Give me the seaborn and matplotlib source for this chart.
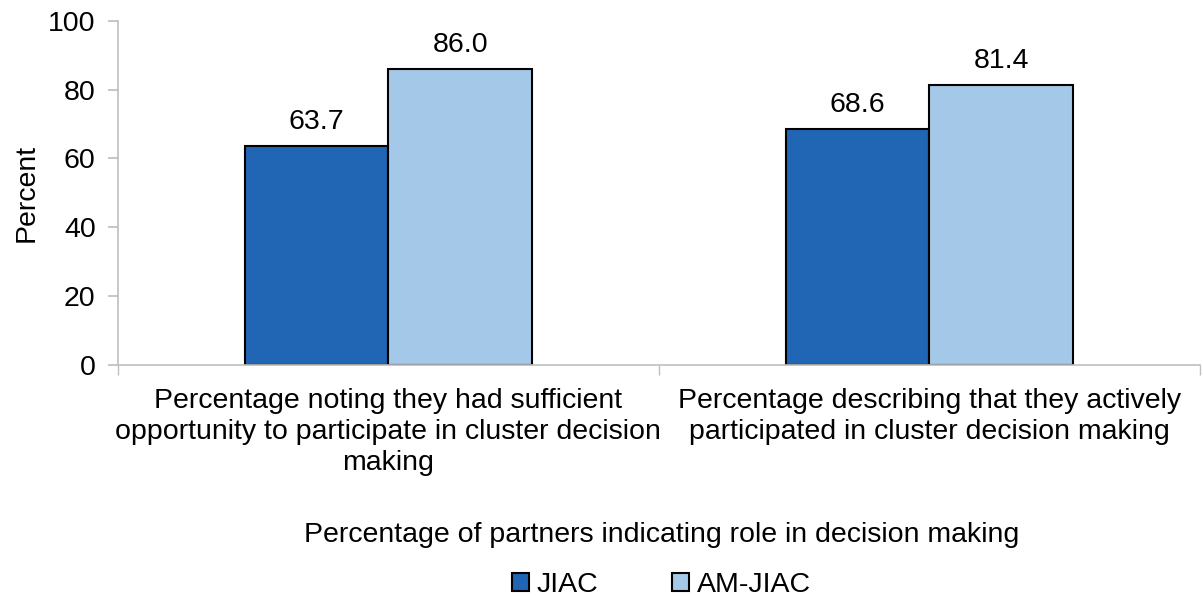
import matplotlib
matplotlib.use("Agg")
import matplotlib.pyplot as plt
import seaborn as sns
import pandas as pd
from matplotlib.ticker import FixedLocator

categories = ["Percentage noting they had sufficient\nopportunity to participate in cluster decision\nmaking",
              "Percentage describing that they actively\nparticipated in cluster decision making"]
groups = ["JIAC", "AM-JIAC"]
jiac = [63.7, 68.6]
am_jiac = [86.0, 81.4]
colors = ["#2166B4", "#A3C8E8"]

df = pd.DataFrame({
    "category": categories * 2,
    "group": [groups[0]] * 2 + [groups[1]] * 2,
    "value": jiac + am_jiac,
})

sns.set_theme(style="white")
plt.rcParams["font.family"] = ["Liberation Sans", "DejaVu Sans"]
plt.rcParams["text.color"] = "black"
plt.rcParams["axes.labelcolor"] = "black"
plt.rcParams["xtick.color"] = "black"
plt.rcParams["ytick.color"] = "black"

fs = 20.5
fig = plt.figure(figsize=(12.03, 5.98), dpi=100)
ax = fig.add_axes([0.098, 0.39, 0.8995, 0.575])

sns.barplot(data=df, x="category", y="value", hue="group", palette=colors, saturation=1,
            width=0.53, edgecolor="black", linewidth=1.5, ax=ax, legend=True)

for cont in ax.containers:
    ax.bar_label(cont, fmt="%.1f", padding=8, fontsize=fs)

ax.set_ylim(0, 100)
ax.set_xlim(-0.5, 1.5)
ax.set_yticks([0, 20, 40, 60, 80, 100])
ax.tick_params(axis="y", labelsize=fs, length=7, color="#BFBFBF", left=True, pad=9)
ax.tick_params(axis="x", labelsize=fs, length=0, pad=17)
for lab in ax.get_xticklabels():
    lab.set_linespacing(1.25)
ax.xaxis.set_minor_locator(FixedLocator([-0.5, 0.5, 1.5]))
ax.tick_params(axis="x", which="minor", length=7, color="#BFBFBF", bottom=True)

for s in ["top", "right"]:
    ax.spines[s].set_visible(False)
for s in ["left", "bottom"]:
    ax.spines[s].set_color("#BFBFBF")
    ax.spines[s].set_linewidth(1.2)

ax.set_ylabel("Percent", fontsize=fs, labelpad=6)
ax.set_xlabel("")
fig.text(0.55, 1 - 535 / 598, "Percentage of partners indicating role in decision making",
         ha="center", va="center", fontsize=fs)

leg = ax.legend(loc="center", bbox_to_anchor=(0.5499, 1 - 585 / 598), bbox_transform=fig.transFigure,
                ncol=2, frameon=False, fontsize=fs, handlelength=0.6, handleheight=0.6,
                handletextpad=0.25, columnspacing=2.6)

fig.savefig("out.png", dpi=100)
